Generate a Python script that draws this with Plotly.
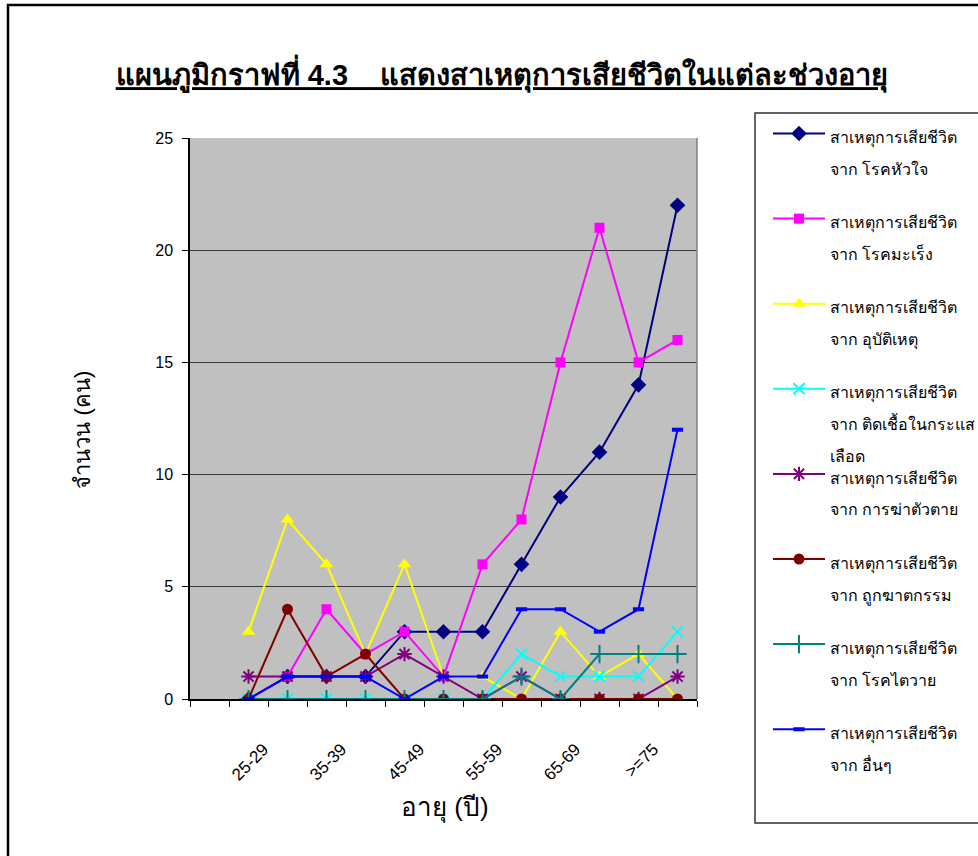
import plotly.graph_objects as go

# Age groups on the category axis (labels shown on every second group)
age_groups = ["20-24", "25-29", "30-34", "35-39", "40-44", "45-49", "50-54",
              "55-59", "60-64", "65-69", "70-74", ">=75", "ไม่ทราบ"]

# Number of deaths per cause in each age group
heart = [None, 0, 1, 1, 1, 3, 3, 3, 6, 9, 11, 14, 22]
cancer = [None, 0, 1, 4, 2, 3, 1, 6, 8, 15, 21, 15, 16]
accident = [None, 3, 8, 6, 2, 6, 1, 1, 0, 3, 1, 2, 0]
blood_infection = [None, 0, 0, 0, 0, 0, 0, 0, 2, 1, 1, 1, 3]
suicide = [None, 1, 1, 1, 1, 2, 1, 0, 1, 0, 0, 0, 1]
homicide = [None, 0, 4, 1, 2, 0, 0, 0, 0, 0, 0, 0, 0]
kidney = [None, 0, 0, 0, 0, 0, 0, 0, 1, 0, 2, 2, 2]
other = [None, 0, 1, 1, 1, 0, 1, 1, 4, 4, 3, 4, 12]

# Legend labels, one list of text lines per cause
cause_lines = [
    ["สาเหตุการเสียชีวิต", "จาก โรคหัวใจ"],
    ["สาเหตุการเสียชีวิต", "จาก โรคมะเร็ง"],
    ["สาเหตุการเสียชีวิต", "จาก อุบัติเหตุ"],
    ["สาเหตุการเสียชีวิต", "จาก ติดเชื้อในกระแส", "เลือด"],
    ["สาเหตุการเสียชีวิต", "จาก การฆ่าตัวตาย"],
    ["สาเหตุการเสียชีวิต", "จาก ถูกฆาตกรรม"],
    ["สาเหตุการเสียชีวิต", "จาก โรคไตวาย"],
    ["สาเหตุการเสียชีวิต", "จาก อื่นๆ"],
]

FONT = "Liberation Sans, Arial, Noto Sans, DejaVu Sans, sans-serif"
LEGEND_TEXT_PX = 16
LEGEND_LINE_PX = 32  # distance between the lines of one legend entry

series = [
    (heart, "#000080", dict(symbol="diamond", size=12)),
    (cancer, "#FF00FF", dict(symbol="square", size=10)),
    (accident, "#FFFF00", dict(symbol="triangle-up", size=12)),
    (blood_infection, "#00FFFF", dict(symbol="x-thin-open", size=11, line=dict(width=2, color="#00FFFF"))),
    (suicide, "#800080", dict(symbol="asterisk-open", size=12, line=dict(width=2, color="#800080"))),
    (homicide, "#800000", dict(symbol="circle", size=11)),
    (kidney, "#008080", dict(symbol="cross-thin-open", size=13, line=dict(width=2, color="#008080"))),
    (other, "#0000FF", dict(symbol="line-ew-open", size=8, line=dict(width=4, color="#0000FF"))),
]

W, H = 978, 856
L, R, T, B = 190, 281, 138, 157
pw, ph = W - L - R, H - T - B


def px(x):
    return (x - L) / pw


def py(y):
    return (H - B - y) / ph


fig = go.Figure()
legends = {}
for i, ((values, color, marker), lines) in enumerate(zip(series, cause_lines)):
    m = dict(color=color)
    m.update(marker)
    label = "<br>".join(
        f"<span style='font-size:{LEGEND_TEXT_PX}px'>{t}</span>" for t in lines)
    key = "legend" if i == 0 else f"legend{i + 1}"
    fig.add_trace(go.Scatter(
        x=age_groups, y=values, name=label, mode="lines+markers",
        line=dict(color=color, width=2), marker=m, connectgaps=False,
        legend=key,
    ))
    first_line_y = 136 + 85.1 * i
    legends[key] = dict(
        x=px(768), xanchor="left", y=py(first_line_y - 25), yanchor="top",
        bgcolor="rgba(0,0,0,0)", borderwidth=0,
        font=dict(size=LEGEND_LINE_PX / 1.3, family=FONT, color="black"),
        valign="top", itemwidth=52,
    )

tick_text = [g if i % 2 == 1 else "" for i, g in enumerate(age_groups)]

fig.update_layout(
    width=W, height=H,
    margin=dict(l=L, r=R, t=T, b=B, autoexpand=False),
    paper_bgcolor="white",
    plot_bgcolor="#C0C0C0",
    font=dict(family=FONT, color="black", size=15),
    title=dict(
        text="<b><u>แผนภูมิกราฟที่ 4.3    แสดงสาเหตุการเสียชีวิตในแต่ละช่วงอายุ</u></b>",
        x=502 / W, xanchor="center", y=1 - 75 / H, yanchor="middle",
        font=dict(size=29, family=FONT, color="black"),
    ),
    xaxis=dict(
        type="category", categoryorder="array", categoryarray=age_groups,
        tickvals=age_groups, ticktext=tick_text, tickangle=-45,
        tickson="boundaries", ticks="outside", ticklen=6, tickcolor="black",
        showline=True, linecolor="black", linewidth=1.5,
        showgrid=False, zeroline=False,
        tickfont=dict(size=17),
        ticklabelstandoff=32, ticklabelshift=15,
        range=[-0.5, len(age_groups) - 0.5],
    ),
    yaxis=dict(
        range=[0, 25], dtick=5, ticks="outside", ticklen=6, tickcolor="black",
        showline=True, linecolor="black", linewidth=1.5,
        showgrid=True, gridcolor="#3a3a3a", gridwidth=1,
        zeroline=False, tickfont=dict(size=16), ticklabelstandoff=6,
    ),
    showlegend=True,
    shapes=[
        # outer chart frame
        dict(type="rect", xref="paper", yref="paper",
             x0=px(8), x1=px(1000), y0=py(880), y1=py(5),
             line=dict(color="black", width=2.5), fillcolor="rgba(0,0,0,0)", layer="below"),
        # legend frame
        dict(type="rect", xref="paper", yref="paper",
             x0=px(755), x1=px(1000), y0=py(823), y1=py(113),
             line=dict(color="#333333", width=1.5), fillcolor="rgba(0,0,0,0)"),
        # right border of plot area
        dict(type="line", xref="paper", yref="paper", x0=1, x1=1, y0=0, y1=1,
             line=dict(color="#808080", width=1.5)),
    ],
    annotations=[
        dict(text="จำนวน (คน)", xref="paper", yref="paper", x=px(67), y=py(430),
             textangle=-90, showarrow=False, font=dict(size=22)),
        dict(text="อายุ (ปี)", xref="paper", yref="paper", x=px(445), y=py(825),
             showarrow=False, font=dict(size=26)),
    ],
)
fig.update_layout(**legends)

fig.write_html("out.html")
